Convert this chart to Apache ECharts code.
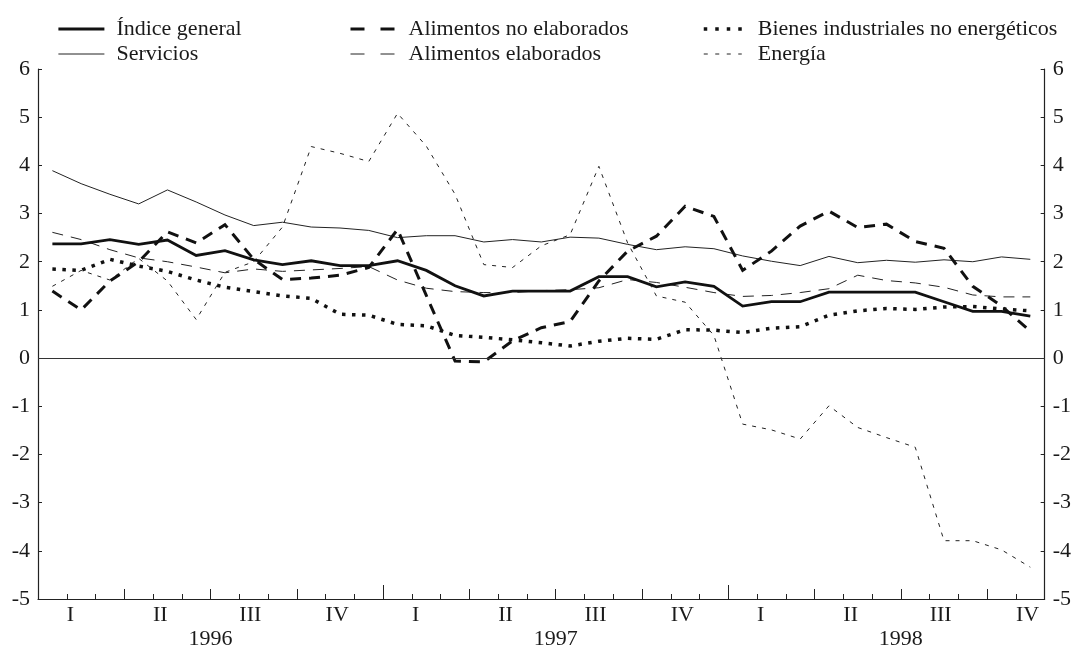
<!DOCTYPE html>
<html><head><meta charset="utf-8">
<script src="https://cdn.jsdelivr.net/npm/echarts@6/dist/echarts.min.js"></script>
<style>html,body{margin:0;padding:0;background:#fff}#c{width:1074px;height:650px}</style>
</head><body><div id="c"></div>
<script>
// Monthly observations, Jan 1996 – Nov 1998
const months = ['1996-01','1996-02','1996-03','1996-04','1996-05','1996-06','1996-07','1996-08','1996-09','1996-10','1996-11','1996-12',
  '1997-01','1997-02','1997-03','1997-04','1997-05','1997-06','1997-07','1997-08','1997-09','1997-10','1997-11','1997-12',
  '1998-01','1998-02','1998-03','1998-04','1998-05','1998-06','1998-07','1998-08','1998-09','1998-10','1998-11'];
// month boundaries used for the tick marks (start of each month + end of axis)
const boundaries = months.concat(['1998-12']);
const quarterLabels = ['I','II','III','IV'];
const yearLabels = ['1996','1997','1998'];
const yTicks = {min: -5, max: 6, interval: 1};

const indiceGeneral = [2.37,2.37,2.46,2.36,2.45,2.13,2.23,2.04,1.94,2.02,1.92,1.92,2.02,1.82,1.50,1.29,1.39,1.39,1.39,1.69,1.69,1.48,1.58,1.49,1.08,1.17,1.17,1.37,1.37,1.37,1.37,1.17,0.97,0.97,0.87];
const servicios = [3.89,3.62,3.40,3.20,3.49,3.24,2.97,2.75,2.82,2.72,2.70,2.65,2.50,2.54,2.54,2.41,2.46,2.41,2.51,2.49,2.36,2.25,2.31,2.27,2.12,2.01,1.92,2.11,1.98,2.03,1.99,2.04,2.00,2.10,2.05];
const alimNoElab = [1.39,1.00,1.60,2.00,2.62,2.39,2.77,2.05,1.63,1.66,1.72,1.88,2.67,1.30,-0.06,-0.08,0.36,0.63,0.76,1.60,2.22,2.53,3.15,2.94,1.82,2.22,2.74,3.05,2.71,2.78,2.42,2.28,1.49,1.08,0.56];
const alimElab = [2.61,2.46,2.25,2.08,2.00,1.89,1.77,1.85,1.80,1.83,1.86,1.90,1.62,1.45,1.38,1.36,1.36,1.40,1.42,1.46,1.63,1.57,1.47,1.36,1.28,1.30,1.36,1.44,1.72,1.61,1.56,1.47,1.31,1.27,1.27];
const bienesInd = [1.85,1.82,2.05,1.91,1.80,1.62,1.47,1.38,1.29,1.24,0.91,0.89,0.70,0.67,0.47,0.43,0.38,0.32,0.25,0.35,0.41,0.39,0.59,0.58,0.53,0.62,0.65,0.89,0.98,1.03,1.01,1.06,1.07,1.02,0.98];
const energia = [1.49,1.82,1.62,2.07,1.60,0.80,1.78,2.00,2.72,4.39,4.25,4.08,5.08,4.40,3.40,1.94,1.88,2.33,2.56,3.98,2.39,1.29,1.16,0.47,-1.37,-1.49,-1.68,-0.99,-1.44,-1.65,-1.85,-3.79,-3.79,-3.98,-4.34];

const FONT = 'Liberation Serif';
const TXT = '#1a1a1a';
const AX = '#222';
const FS = 22;

const chart = echarts.init(document.getElementById('c'));

const tickAxis = (tick, label) => ({
  type: 'category', data: boundaries, boundaryGap: false, position: 'bottom',
  axisLine: {show: false, onZero: false},
  splitLine: {show: false},
  axisTick: Object.assign({show: true, inside: true, lineStyle: {color: AX, width: 1}}, tick),
  axisLabel: Object.assign({show: false, fontFamily: FONT, fontSize: FS, color: TXT}, label || {})
});

const styles = {
  'Índice general': {width: 2.8, type: 'solid', color: '#111'},
  'Servicios': {width: 1, type: 'solid', color: '#222'},
  'Alimentos no elaborados': {width: 3, type: [11, 8], color: '#111'},
  'Alimentos elaborados': {width: 1, type: [11, 8], color: '#222'},
  'Bienes industriales no energéticos': {width: 3.5, type: [3.5, 6.5], color: '#111'},
  'Energía': {width: 1, type: [4, 6], color: '#222'}
};
const legendStyles = {
  'Alimentos no elaborados': {type: [14, 16]},
  'Alimentos elaborados': {type: [14, 16]},
  'Bienes industriales no energéticos': {type: [3.5, 8]},
  'Energía': {type: [4, 7.5]}
};
const legItem = (name) => ({
  name,
  itemStyle: {opacity: 0},
  lineStyle: Object.assign({}, styles[name], {cap: 'butt'}, legendStyles[name] || {})
});

const legendBase = {
  orient: 'vertical', itemGap: 3, itemHeight: 12, top: 13
};
const legText = (pad) => ({fontFamily: FONT, fontSize: FS, color: TXT, lineHeight: 22, padding: [0, 0, 0, pad]});

const mk = (name, data, z) => ({
  name, type: 'line', data, symbol: 'none', z,
  xAxisIndex: 0, yAxisIndex: 0,
  lineStyle: Object.assign({cap: 'butt', join: 'miter'}, styles[name]),
  itemStyle: {color: '#111'},
  emphasis: {disabled: true}
});

const option = {
  animation: false,
  backgroundColor: '#fff',
  grid: {left: 38, right: 29, top: 69, bottom: 50},
  legend: [
    Object.assign({}, legendBase, {data: ['Índice general', 'Servicios'].map(legItem), left: 52, itemWidth: 46,
      textStyle: legText(7)}),
    Object.assign({}, legendBase, {data: ['Alimentos no elaborados', 'Alimentos elaborados'].map(legItem), left: 344, itemWidth: 44,
      textStyle: legText(9)}),
    Object.assign({}, legendBase, {data: ['Bienes industriales no energéticos', 'Energía'].map(legItem), left: 697, itemWidth: 38,
      textStyle: legText(11)})
  ],
  xAxis: [
    {type: 'category', data: months, boundaryGap: true, show: false, axisLine: {onZero: false}},
    tickAxis({length: 5, interval: 0}),
    Object.assign(tickAxis({length: 10, interval: (i) => i % 3 === 0},
      {show: true, interval: (i) => i % 3 === 1, align: 'left', margin: 5,
       formatter: (v, i) => quarterLabels[Math.floor(i / 3) % 4]}),
      {axisLine: {show: true, onZero: false, lineStyle: {color: AX, width: 1.2}}}),
    tickAxis({length: 14, interval: (i) => i % 12 === 0},
      {show: true, interval: (i) => i % 12 === 6, margin: 29,
       formatter: (v, i) => yearLabels[Math.floor(i / 12)]})
  ],
  yAxis: [
    {type: 'value', position: 'left', min: yTicks.min, max: yTicks.max, interval: yTicks.interval,
     axisLine: {show: true, onZero: false, lineStyle: {color: AX, width: 1.2}},
     axisTick: {show: true, inside: true, length: 4, lineStyle: {color: AX}},
     splitLine: {show: false},
     axisLabel: {fontFamily: FONT, fontSize: FS, color: TXT, margin: 8}},
    {type: 'value', position: 'right', min: yTicks.min, max: yTicks.max, interval: yTicks.interval,
     axisLine: {show: true, onZero: false, lineStyle: {color: AX, width: 1.2}},
     axisTick: {show: true, inside: true, length: 4, lineStyle: {color: AX}},
     splitLine: {show: false},
     axisLabel: {fontFamily: FONT, fontSize: FS, color: TXT, margin: 8}}
  ],
  series: [
    Object.assign(mk('Servicios', servicios, 2), {
      markLine: {silent: true, symbol: 'none', label: {show: false},
        lineStyle: {color: '#333', width: 1.2, type: 'solid'}, data: [{yAxis: 0}]}
    }),
    mk('Alimentos elaborados', alimElab, 2),
    mk('Energía', energia, 2),
    mk('Bienes industriales no energéticos', bienesInd, 3),
    mk('Alimentos no elaborados', alimNoElab, 3),
    mk('Índice general', indiceGeneral, 4)
  ]
};
chart.setOption(option);
</script>
</body></html>
